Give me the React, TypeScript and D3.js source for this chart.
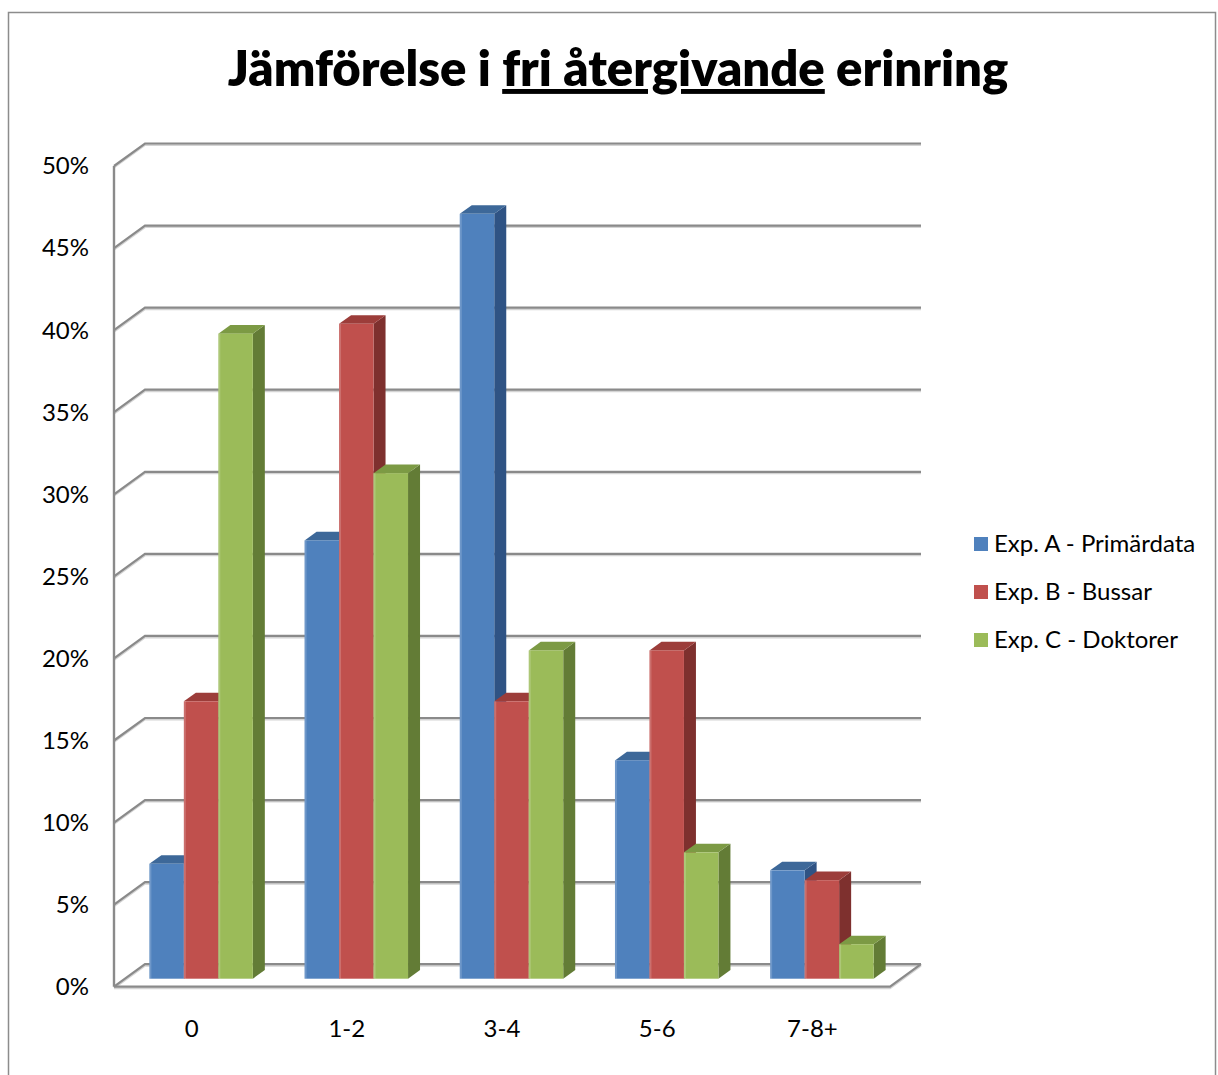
import React from "react";
import * as d3 from "d3";

// Score bins (number of recalled items)
const categories = ["0", "1-2", "3-4", "5-6", "7-8+"];
const seriesNames = ["Exp. A - Primärdata", "Exp. B - Bussar", "Exp. C - Doktorer"];

// Share of participants per bin, in percent
const expA = [7.0, 26.7, 46.6, 13.3, 6.6];
const expB = [16.9, 39.9, 16.9, 20.0, 6.0];
const expC = [39.3, 30.8, 20.0, 7.7, 2.1];
const seriesValues = [expA, expB, expC];

const yTicks = [0, 5, 10, 15, 20, 25, 30, 35, 40, 45, 50];

// front, top and side face colours per series
const faceColors = [
  { front: "#4F81BD", top: "#3D6899", side: "#2F5384" },
  { front: "#C0504D", top: "#9C3D3A", side: "#7E302E" },
  { front: "#9BBB59", top: "#7C9A44", side: "#637C36" },
];

const W = 1218;
const H = 1075;
const FONT = "Lato, 'Open Sans', sans-serif";

export default function App() {
  // front plane of the plot box
  const x0 = 114;
  const x1 = 890;
  const y = d3.scaleLinear().domain([0, 50]).range([986.7, 166]);
  // oblique depth of the box
  const depth = { dx: 31, dy: -22.5 };
  // bars sit inside the box depth
  const barFront = { dx: 9.5, dy: -8 };
  const barDepth = { dx: 12, dy: -8.6 };

  const xCat = d3
    .scaleBand<string>()
    .domain(categories)
    .range([x0, x1])
    .paddingInner(1 / 3)
    .paddingOuter(1 / 6);
  const xSer = d3
    .scaleBand<string>()
    .domain(seriesNames)
    .range([0, xCat.bandwidth()]);

  const grid = "#8A8A8A";
  const gridShadow = "#D4D4D4";

  const bars: React.ReactElement[] = [];
  categories.forEach((cat, ci) => {
    seriesNames.forEach((s, si) => {
      const v = seriesValues[si][ci];
      const bx = (xCat(cat) as number) + (xSer(s) as number) + barFront.dx;
      const w = xSer.bandwidth();
      const yt = y(v) + barFront.dy;
      const yb = y(0) + barFront.dy;
      const c = faceColors[si];
      const ddx = barDepth.dx;
      const ddy = barDepth.dy;
      const pts = (a: number[][]) => a.map((p) => p.join(",")).join(" ");
      bars.push(
        <g key={`${ci}-${si}`}>
          <polygon
            points={pts([
              [bx + w, yt],
              [bx + w + ddx, yt + ddy],
              [bx + w + ddx, yb + ddy],
              [bx + w, yb],
            ])}
            fill={c.side}
          />
          <polygon
            points={pts([
              [bx, yt],
              [bx + w, yt],
              [bx + w + ddx, yt + ddy],
              [bx + ddx, yt + ddy],
            ])}
            fill={c.top}
          />
          <rect x={bx} y={yt} width={w} height={yb - yt} fill={c.front} />
          <rect x={bx} y={yt} width={2} height={yb - yt} fill="#ffffff" opacity={0.18} />
        </g>
      );
    });
  });

  return (
    <svg
      width={W}
      height={H}
      style={{ position: "absolute", left: 0, top: 0, background: "#fff" }}
      fontFamily={FONT}
    >
      <rect x={0} y={0} width={W} height={H} fill="#ffffff" />
      {/* chart border */}
      <rect x={8.5} y={12.5} width={1207} height={1100} fill="none" stroke="#8C8C8C" strokeWidth={1.5} />

      {/* title */}
      <text
        x={618}
        y={86}
        textAnchor="middle"
        fontSize={49}
        fontWeight={800}
        fill="#000"
        style={{ textDecorationThickness: "3px" } as React.CSSProperties}
      >
        <tspan>Jämförelse i </tspan>
        <tspan textDecoration="underline">fri återgivande</tspan>
        <tspan> erinring</tspan>
      </text>

      {/* back wall gridlines and left wall diagonals */}
      {yTicks.map((t) => {
        const yf = y(t);
        const yb = yf + depth.dy;
        return (
          <g key={`g${t}`}>
            <path
              d={`M${x0},${yf + 1.5}L${x0 + depth.dx},${yb + 1.5}L${x1 + depth.dx},${yb + 1.5}`}
              fill="none"
              stroke={gridShadow}
              strokeWidth={2}
            />
            <path
              d={`M${x0},${yf}L${x0 + depth.dx},${yb}L${x1 + depth.dx},${yb}`}
              fill="none"
              stroke={grid}
              strokeWidth={2.2}
            />
          </g>
        );
      })}

      {/* floor front and right edges */}
      <path
        d={`M${x0},${y(0) + 1.5}L${x1},${y(0) + 1.5}L${x1 + depth.dx},${y(0) + depth.dy + 1.5}`}
        fill="none"
        stroke={gridShadow}
        strokeWidth={2}
      />
      <path
        d={`M${x0},${y(0)}L${x1},${y(0)}L${x1 + depth.dx},${y(0) + depth.dy}`}
        fill="none"
        stroke={grid}
        strokeWidth={2.2}
      />
      {/* vertical axis */}
      <line x1={x0} x2={x0} y1={y(50)} y2={y(0)} stroke={grid} strokeWidth={2.4} />

      {bars}

      {/* value axis labels */}
      {yTicks.map((t) => (
        <text
          key={`yl${t}`}
          x={89}
          y={y(t)}
          dy="0.35em"
          textAnchor="end"
          fontSize={24}
          fill="#000"
        >
          {`${t}%`}
        </text>
      ))}

      {/* category labels */}
      {categories.map((c) => (
        <text
          key={`c${c}`}
          x={(xCat(c) as number) + xCat.bandwidth() / 2}
          y={1029}
          dy="0.35em"
          textAnchor="middle"
          fontSize={24}
          fill="#000"
        >
          {c}
        </text>
      ))}

      {/* legend */}
      {seriesNames.map((s, i) => {
        const ly = 544 + i * 48;
        return (
          <g key={`lg${i}`}>
            <rect x={974} y={ly - 7} width={14} height={14} fill={faceColors[i].front} />
            <text x={994} y={ly} dy="0.35em" fontSize={24} fill="#000">
              {s}
            </text>
          </g>
        );
      })}
    </svg>
  );
}
